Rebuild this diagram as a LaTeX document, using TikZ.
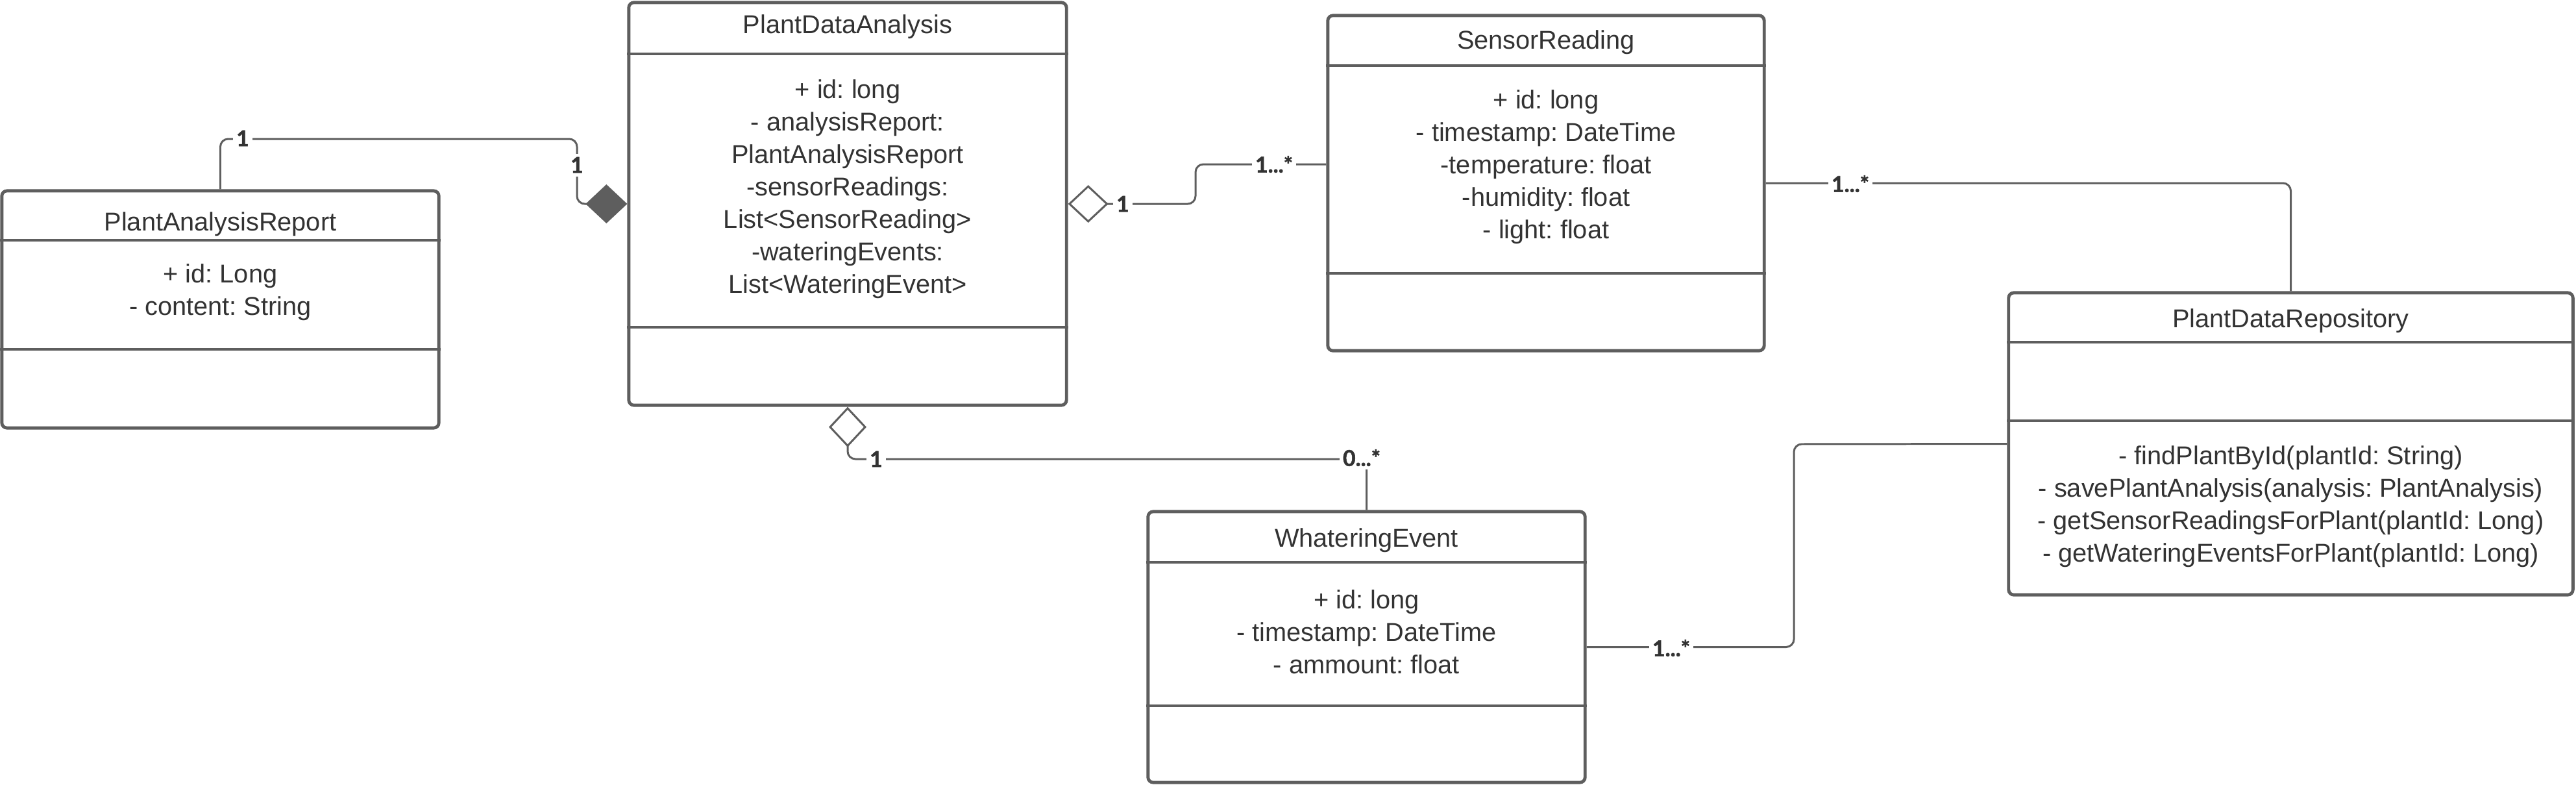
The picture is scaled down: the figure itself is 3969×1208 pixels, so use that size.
\documentclass[tikz,border=0pt]{standalone}
\usepackage{fontspec}
\setmainfont{Liberation Sans}
\newfontfamily\lblfont{Lato}[BoldFeatures={FakeBold=1.5}]
\usepackage{tikz}
\usetikzlibrary{arrows.meta}
\frenchspacing

\definecolor{ln}{HTML}{5E5E5E}
\definecolor{txt}{HTML}{333333}

\begin{document}
\begin{tikzpicture}[x=0.01cm, y=-0.01cm,
  cls/.style={draw=ln, line width=1.4pt, rounded corners=0.08cm, inner sep=0},
  sep/.style={draw=ln, line width=1.4pt},
  ttl/.style={text=txt, font=\fontsize{11.3}{14.2}\selectfont},
  attr/.style={text=txt, align=center, font=\fontsize{11.3}{14.2}\selectfont},
  link/.style={draw=ln, line width=0.85pt, rounded corners=0.12cm},
  comp/.style={-{Diamond[length=0.64cm, width=0.6cm]}},
  aggr/.style={-{Diamond[open, length=0.62cm, width=0.58cm]}},
  mult/.style={fill=white, text=txt, inner sep=1.5pt, font=\lblfont\bfseries\fontsize{9.6}{10}\selectfont}]

  \useasboundingbox (0,0) rectangle (3969,1208);

  % class boxes
  \node[cls, minimum width=6.73cm, minimum height=3.65cm] (report) at (339.5,476.5) {};
  \node[cls, minimum width=6.74cm, minimum height=6.2cm] (pda) at (1306,314) {};
  \node[cls, minimum width=6.72cm, minimum height=5.16cm] (sensor) at (2382,282) {};
  \node[cls, minimum width=8.69cm, minimum height=4.65cm] (repo) at (3529.5,683.5) {};
  \node[cls, minimum width=6.73cm, minimum height=4.17cm] (water) at (2105.5,996.5) {};

  \foreach \c/\y in {report/370, report/538, pda/83, pda/504, sensor/101, sensor/421,
                     repo/527, repo/648, water/866, water/1087}
    \draw[sep] (\c.west |- 0,\y) -- (\c.east |- 0,\y);

  % titles and members
  \node[ttl] (reportT) at (339.5,345) {PlantAnalysisReport};
  \node[attr] (reportA) at (339.5,450) {+ id: Long\\- content: String};

  \node[ttl] (pdaT) at (1306,41) {PlantDataAnalysis};
  \node[attr] (pdaA) at (1306,291) {+ id: long\\- analysisReport:\\PlantAnalysisReport\\-sensorReadings:\\List<SensorReading>\\-wateringEvents:\\List<WateringEvent>};

  \node[ttl] (sensorT) at (2382,65) {SensorReading};
  \node[attr] (sensorA) at (2382,257) {+ id: long\\- timestamp: DateTime\\-temperature: float\\-humidity: float\\- light: float};

  \node[ttl] (repoT) at (3529.5,494) {PlantDataRepository};
  \node[attr] (repoM) at (3529.5,780) {- findPlantById(plantId: String)\\- savePlantAnalysis(analysis: PlantAnalysis)\\- getSensorReadingsForPlant(plantId: Long)\\- getWateringEventsForPlant(plantId: Long)};

  \node[ttl] (waterT) at (2105.5,832) {WhateringEvent};
  \node[attr] (waterA) at (2105.5,973) {+ id: long\\- timestamp: DateTime\\- ammount: float};

  % associations
  \draw[link, comp] (report.north) |- (889,214) |- (pda.west);
  \draw[link, aggr] (sensor.west |- 0,253) -| (1842,314) -- (pda.east);
  \draw[link, aggr] (water.north) |- (1306,707) -- (pda.south);
  \draw[link] (sensor.east) -| (repo.north);
  \draw[link] (water.east) -| (2764,684) -- (repo.west);

  % multiplicities
  \node[mult] (m1) at (374,213) {1};
  \node[mult] (m2) at (889,254) {1};
  \node[mult] (m3) at (1730,314) {1};
  \node[mult] (m4) at (1963,253) {1...*};
  \node[mult] (m5) at (1350,707) {1};
  \node[mult] (m6) at (2098,705) {0...*};
  \node[mult] (m7) at (2851,283) {1...*};
  \node[mult] (m8) at (2575,998) {1...*};
\end{tikzpicture}
\end{document}
